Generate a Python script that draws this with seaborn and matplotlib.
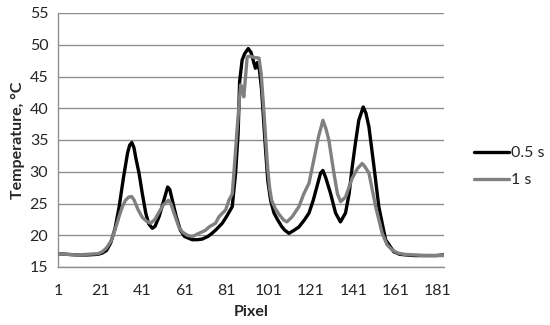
import numpy as np
import pandas as pd
import matplotlib
matplotlib.use("Agg")
import matplotlib.pyplot as plt
import seaborn as sns
from matplotlib.ticker import FixedLocator
from matplotlib.lines import Line2D

# ---- data ----
x_05 = [1, 5, 10, 15, 20, 22, 24, 26, 28, 30, 32, 34, 35, 36, 37, 38, 39.4, 41, 42.6, 44,
        45.7, 47, 49, 51, 53, 54, 55, 57, 59, 61, 64.6, 67, 69.4, 72, 74, 76, 78.9, 81, 83.6,
        85.2, 86.4, 87.1, 88.3, 89.5, 91.2, 92.5, 93.9, 94.6, 95.5, 96.5, 97.5, 98.5, 99.5,
        100.5, 101.8, 103.4, 105, 107, 108.5, 110.5, 113, 115.2, 118, 120, 122, 123.7, 125.5,
        126.6, 128, 130.2, 132.6, 134.9, 137.3, 139, 140.5, 142, 143.6, 145.7, 147, 148.4,
        150.8, 153.1, 156.3, 160.2, 163, 166, 170, 175, 180, 184]
t_05 = [17.1, 17.0, 16.9, 16.9, 17.0, 17.2, 17.6, 18.8, 21.0, 24.5, 29.0, 33.0, 34.2, 34.6,
        33.8, 32.0, 29.8, 26.5, 23.5, 21.8, 21.1, 21.4, 23.0, 25.3, 27.6, 27.2, 25.8, 23.0,
        20.8, 19.8, 19.3, 19.3, 19.4, 19.8, 20.3, 20.9, 21.9, 23.0, 24.5, 29.8, 36.1, 44.2,
        47.6, 48.6, 49.4, 48.8, 47.1, 46.3, 47.2, 46.0, 43.0, 38.0, 33.0, 28.5, 25.5, 23.5,
        22.5, 21.4, 20.8, 20.3, 20.8, 21.3, 22.5, 23.5, 25.5, 27.6, 29.8, 30.2, 29.0, 26.6,
        23.5, 22.1, 23.5, 26.5, 30.8, 34.5, 38.1, 40.2, 39.2, 37.1, 30.8, 24.5, 19.3, 17.4,
        17.0, 16.9, 16.8, 16.8, 16.8, 16.9]

x_1 = [1, 5, 10, 15, 20, 22, 24, 26, 28, 30, 31.5, 33, 34.5, 35.9, 37, 39, 41, 43, 44.9, 47,
       49, 51, 53.3, 54.5, 56, 58.3, 60, 62.3, 64.7, 67.8, 71, 72.6, 75.7, 77.3, 80.5, 82,
       83.6, 84.4, 86, 87.6, 88.4, 89.1, 90.7, 92, 94, 96.3, 97.3, 98.3, 99.3, 100.3, 101.3,
       102.3, 104, 106, 108, 109.5, 112, 115.2, 117.5, 120, 122.3, 124.5, 126.6, 128, 129.4,
       131.8, 133.5, 135, 137.3, 140.5, 143, 145.2, 146.5, 148.4, 151.6, 154.7, 157, 159.4,
       162, 165, 170, 175, 180, 184]
t_1 = [17.1, 17.0, 16.9, 17.0, 17.1, 17.4, 18.0, 19.0, 20.8, 23.0, 24.5, 25.5, 26.0, 26.1,
       25.6, 24.0, 22.8, 22.2, 21.9, 22.5, 23.7, 24.8, 25.5, 25.0, 23.5, 21.3, 20.5, 20.0,
       19.8, 20.3, 20.8, 21.3, 21.9, 22.9, 24.0, 25.5, 26.5, 29.8, 37.1, 43.7, 43.0, 41.8,
       48.1, 48.2, 48.0, 47.9, 45.5, 41.0, 36.0, 31.0, 27.5, 25.5, 24.2, 23.2, 22.4, 22.1,
       22.9, 24.5, 26.5, 28.2, 31.9, 35.5, 38.1, 36.8, 35.0, 29.8, 26.5, 25.3, 26.0, 29.0,
       30.5, 31.3, 30.8, 29.8, 24.5, 20.3, 18.5, 17.7, 17.2, 17.0, 16.9, 16.8, 16.8, 16.8]

series_labels = ["0.5 s", "1 s"]
x_tick_labels = [1, 21, 41, 61, 81, 101, 121, 141, 161, 181]
y_ticks = [15, 20, 25, 30, 35, 40, 45, 50, 55]

df = pd.concat([
    pd.DataFrame({"Pixel": x_05, "Temperature": t_05, "Series": series_labels[0]}),
    pd.DataFrame({"Pixel": x_1, "Temperature": t_1, "Series": series_labels[1]}),
], ignore_index=True)

sns.set_style("white")
plt.rcParams["font.family"] = ["Lato", "DejaVu Sans"]

fig = plt.figure(figsize=(5.5, 3.25), dpi=100)
ax = fig.add_axes([58 / 550, 1 - 267 / 325, (444 - 58) / 550, (267 - 13) / 325])

grid_c = "#8f8f8f"
sns.lineplot(data=df, x="Pixel", y="Temperature", hue="Series",
             palette={"0.5 s": "#000000", "1 s": "#808080"},
             linewidth=2.4, ax=ax, sort=False, estimator=None, legend=False, zorder=3)

ax.set_xlim(1, 184)
ax.set_ylim(15, 55)
ax.set_yticks(y_ticks)
ax.set_xticks(x_tick_labels)
ax.xaxis.set_minor_locator(FixedLocator(list(np.arange(1, 185, 20 / 6))))
ax.tick_params(axis="x", which="major", length=4, width=1, color=grid_c, labelsize=11.5, pad=8)
ax.tick_params(axis="x", which="minor", length=4, width=1, color=grid_c)
ax.tick_params(axis="y", which="major", length=4, width=1, color=grid_c, labelsize=11.5, pad=3)
ax.yaxis.grid(True, color=grid_c, linewidth=1)
ax.xaxis.grid(False)
for s in ["top", "right"]:
    ax.spines[s].set_visible(False)
for s in ["left", "bottom"]:
    ax.spines[s].set_color(grid_c)
    ax.spines[s].set_linewidth(1)
ax.set_axisbelow(True)

ax.set_xlabel("Pixel", fontsize=11.5, fontweight="bold", labelpad=5)
ax.set_ylabel("Temperature, °C", fontsize=11.5, fontweight="bold", labelpad=3)

handles = [Line2D([], [], color="#000000", linewidth=2.4),
           Line2D([], [], color="#808080", linewidth=2.4)]
fig.legend(handles, series_labels, loc="center left", bbox_to_anchor=(0.862, 0.487),
           frameon=False, fontsize=11.5, handlelength=2.2, handletextpad=0.1,
           labelspacing=0.8, borderpad=0, borderaxespad=0)

fig.savefig("out.png", dpi=100)
